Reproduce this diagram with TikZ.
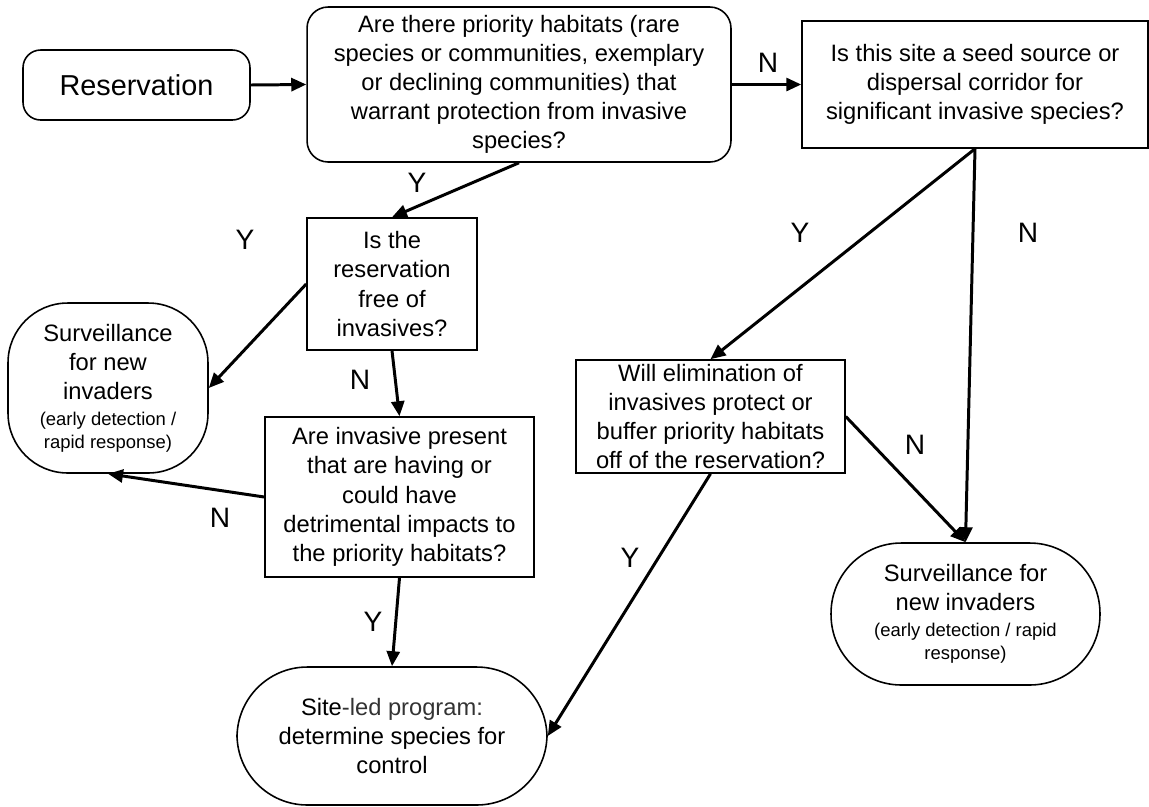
\documentclass[tikz,border=0pt]{standalone}
\usepackage{fontspec}
\setmainfont{Liberation Sans}
\usetikzlibrary{arrows.meta}
\newcommand{\bigtxt}{\fontsize{13.5}{16.6}\selectfont}
\newcommand{\smalltxt}{\fontsize{10.5}{13}\selectfont}
\tikzset{
  box/.style={draw, line width=0.9pt, inner sep=0pt, align=center, font=\bigtxt},
  roundbox/.style={box, rounded corners=#1},
  flow/.style={line width=1.7pt, -{Triangle[length=0.3cm,width=0.26cm]}},
  yn/.style={font=\fontsize{16}{18}\selectfont, inner sep=0pt}
}

\begin{document}
\begin{tikzpicture}[x=0.02cm,y=-0.02cm]
  \useasboundingbox (0,0) rectangle (1149,806);
  % top row
  \node[roundbox=10pt, minimum width=4.54cm, minimum height=1.4cm, font=\fontsize{16.4}{19}\selectfont] (res) at (136.5,85) {Reservation};
  \node[roundbox=12pt, minimum width=8.48cm, minimum height=3.1cm] (prio) at (519,84.5)
    {Are there priority habitats (rare\\species or communities, exemplary\\or declining communities) that\\warrant protection from invasive\\species?};
  \node[box, minimum width=6.92cm, minimum height=2.54cm] (seed) at (975,84.5)
    {Is this site a seed source or\\dispersal corridor for\\significant invasive species?};
  % left branch
  \node[box, minimum width=3.4cm, minimum height=2.64cm] (free) at (392,284)
    {Is the\\reservation\\free of\\invasives?};
  \node[roundbox=34pt, minimum width=4cm, minimum height=3.4cm] (survL) at (108,388)
    {Surveillance\\for new\\invaders\\[-2pt]\smalltxt (early detection /\\[-3.3pt]\smalltxt rapid response)};
  \node[box, minimum width=5.38cm, minimum height=3.2cm] (inv) at (399.5,497)
    {Are invasive present\\that are having or\\could have\\detrimental impacts to\\the priority habitats?};
  \node[roundbox=40pt, minimum width=6.2cm, minimum height=2.76cm] (site) at (392,736)
    {Site{\color{black!80}-led program:}\\determine species for\\control};
  % right branch
  \node[box, minimum width=5.38cm, minimum height=2.26cm] (will) at (710.5,416.5)
    {Will elimination of\\invasives protect or\\buffer priority habitats\\off of the reservation?};
  \node[roundbox=40pt, minimum width=5.38cm, minimum height=2.84cm] (survR) at (965.5,614)
    {Surveillance for\\new invaders\\[-2pt]\smalltxt (early detection / rapid\\[-3.3pt]\smalltxt response)};

  \foreach \a/\b in {res.east/prio.west, prio.east/seed.west, prio.south/free.north,
      free.west/survL.east, free.south/inv.north, inv.west/survL.south, inv.south/site.north,
      seed.south/will.north, seed.south/survR.north, will.east/survR.north, will.south/site.east}
    \draw[flow] (\a) -- (\b);

  \foreach[count=\i] \lab/\x/\y in {N/768/63, Y/417/183, Y/245/240, N/360/380, N/220/518,
      Y/373/622, Y/800/233, N/1028/233, N/915/445, Y/630/558}
    \node[yn] (lab\i) at (\x,\y) {\lab};
\end{tikzpicture}
\end{document}
